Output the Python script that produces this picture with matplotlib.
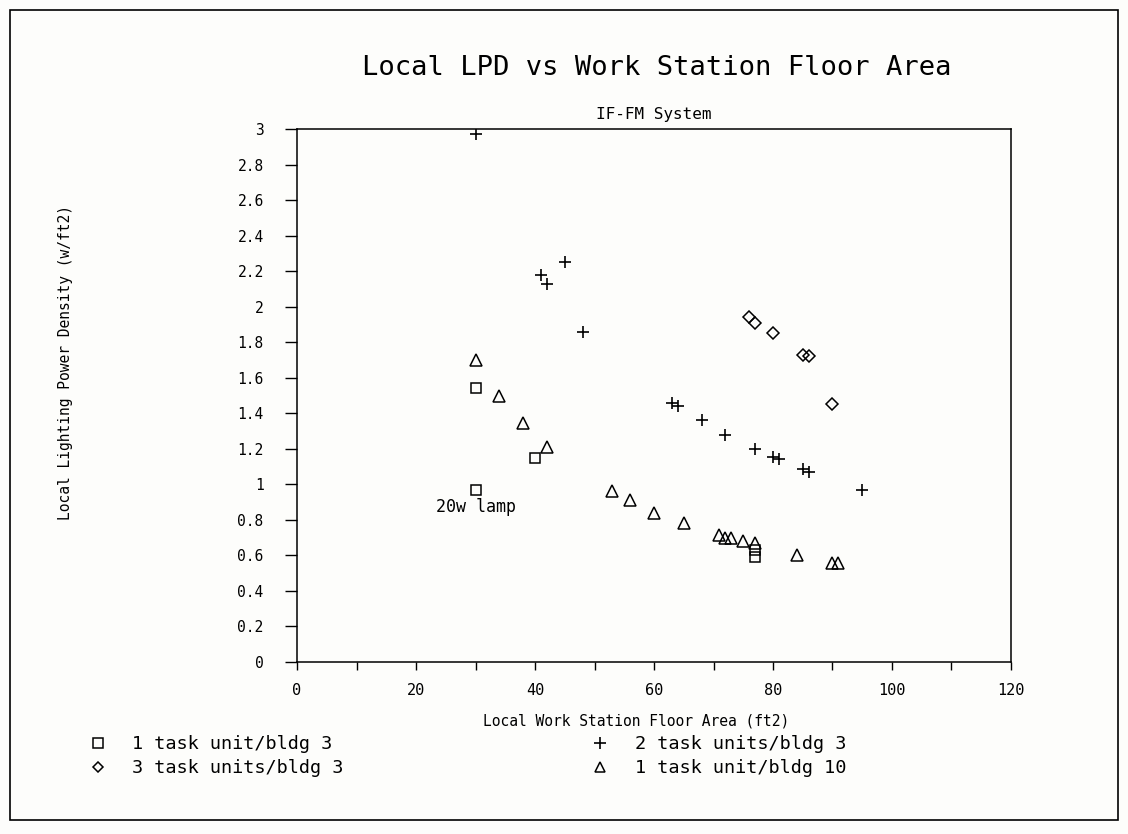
import numpy as np
import matplotlib
matplotlib.use('Agg')
from matplotlib import pyplot as plt
from matplotlib.patches import Rectangle
from matplotlib.ticker import MultipleLocator, FormatStrFormatter

# data
sq_x = [30, 40, 30, 77, 77]
sq_y = [1.54, 1.15, 0.97, 0.63, 0.59]

plus_x = [30, 41, 42, 45, 48, 63, 64, 68, 72, 77, 80, 81, 85, 86, 95]
plus_y = [2.97, 2.18, 2.13, 2.25, 1.86, 1.46, 1.44, 1.36, 1.28, 1.20, 1.155, 1.14, 1.085, 1.07, 0.97]

dia_x = [76, 77, 80, 85, 86, 90]
dia_y = [1.94, 1.91, 1.85, 1.73, 1.72, 1.45]

tri_x = [30, 34, 38, 42, 53, 56, 60, 65, 71, 72, 73, 75, 77, 84, 90, 91]
tri_y = [1.70, 1.50, 1.345, 1.21, 0.96, 0.91, 0.84, 0.78, 0.715, 0.70, 0.70, 0.68, 0.67, 0.60, 0.56, 0.56]

labels = ['1 task unit/bldg 3', '3 task units/bldg 3', '2 task units/bldg 3', '1 task unit/bldg 10']

# plotter-style wide lettering
plt.rcParams['font.family'] = ['DejaVu Sans Mono', 'DejaVu Sans']

W, H = 1128, 834
fig = plt.figure(figsize=(W / 100, H / 100), dpi=100, facecolor='#fdfdfb')
ax = fig.add_axes([297 / W, 1 - 662 / H, (1011 - 297) / W, (662 - 129) / H])
ax.set_facecolor('#fdfdfb')

kw = dict(linestyle='none', mfc='none', mec='black', color='black')
h_sq, = ax.plot(sq_x, sq_y, marker='s', ms=7.5, mew=1.1, **kw)
h_plus, = ax.plot(plus_x, plus_y, marker='+', ms=9, mew=1.2, **kw)
h_dia, = ax.plot(dia_x, dia_y, marker='D', ms=6, mew=1.1, **kw)
h_tri, = ax.plot(tri_x, tri_y, marker='^', ms=8.5, mew=1.1, **kw)

ax.text(30, 0.87, '20w lamp', ha='center', va='center', fontsize=12)

ax.set_xlim(0, 120)
ax.set_ylim(0, 3)
ax.xaxis.set_major_locator(MultipleLocator(20))
ax.xaxis.set_minor_locator(MultipleLocator(10))
ax.yaxis.set_major_locator(MultipleLocator(0.2))
ax.yaxis.set_major_formatter(FormatStrFormatter('%g'))
ax.tick_params(axis='y', which='both', direction='out', length=9, width=1, pad=15, labelsize=10.5)
ax.tick_params(axis='x', which='both', direction='out', length=6, width=1, pad=9, labelsize=11)
for s in ax.spines.values():
    s.set_linewidth(1.1)

ax.set_title('IF-FM System', fontsize=11.5, pad=7)
fig.text(657 / W, 1 - 68 / H, 'Local LPD vs Work Station Floor Area', ha='center', va='center', fontsize=19.5)
fig.text(636 / W, 1 - 721 / H, 'Local Work Station Floor Area (ft2)', ha='center', va='center', fontsize=10.5)
fig.text(66 / W, 1 - 362 / H, 'Local Lighting Power Density (w/ft2)', ha='center', va='center',
         rotation=90, fontsize=10.5)

fig.legend([h_sq, h_dia, h_plus, h_tri], labels, ncol=2, loc='upper left',
           bbox_to_anchor=(87 / W, 1 - 735 / H), frameon=False, fontsize=13.3,
           borderpad=0, borderaxespad=0, handlelength=1.2, handletextpad=1.25,
           columnspacing=13.3, labelspacing=0.33, markerscale=0.9)

# outer frame
fig.add_artist(Rectangle((10 / W, 1 - 820 / H), (1118 - 10) / W, (820 - 10) / H,
                         transform=fig.transFigure, fill=False, lw=1.2, ec='black'))

fig.savefig('out.png', dpi=100, facecolor=fig.get_facecolor())
